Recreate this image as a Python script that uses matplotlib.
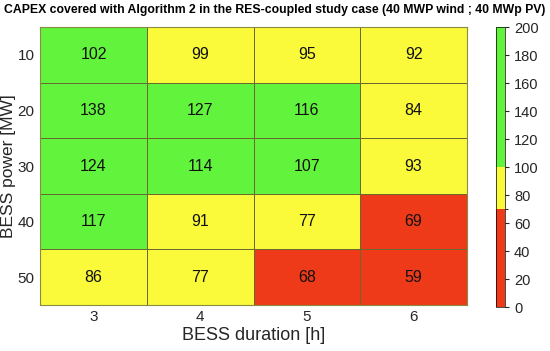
import matplotlib.pyplot as plt
import numpy as np
from matplotlib.colors import ListedColormap, BoundaryNorm

plt.rcParams['font.family'] = ['Liberation Sans', 'DejaVu Sans']

durations = [3, 4, 5, 6]
powers = [10, 20, 30, 40, 50]
capex = np.array([
    [102, 99, 95, 92],
    [138, 127, 116, 84],
    [124, 114, 107, 93],
    [117, 91, 77, 69],
    [86, 77, 68, 59],
])

cmap = ListedColormap(['#ee3a18', '#fafa3a', '#62f43c'])
norm = BoundaryNorm([0, 70, 100, 200], cmap.N)

fig = plt.figure(figsize=(5.5, 3.51), dpi=100)
ax = fig.add_axes([0.073, 0.131, 0.776, 0.792])
cax = fig.add_axes([0.902, 0.125, 0.016, 0.798])

x_edges = np.arange(len(durations) + 1) - 0.5
y_edges = np.arange(len(powers) + 1) - 0.5
mesh = ax.pcolormesh(x_edges, y_edges, capex, cmap=cmap, norm=norm,
                     edgecolor='#6a6a30', linewidth=0.5)
ax.set_xlim(-0.5, len(durations) - 0.5)
ax.set_ylim(len(powers) - 0.5, -0.5)

for i in range(len(powers)):
    for j in range(len(durations)):
        ax.text(j, i, str(capex[i, j]), ha='center', va='center', fontsize=11.5, color='#111111')

ax.set_xticks(range(len(durations)))
ax.set_xticklabels([str(d) for d in durations])
ax.set_yticks(range(len(powers)))
ax.set_yticklabels([str(p) for p in powers])
ax.tick_params(length=0, labelsize=11, colors='#262626')
ax.tick_params(axis='y', pad=4)
for s in ax.spines.values():
    s.set_color('#8a8a40')
    s.set_linewidth(0.8)

ax.set_xlabel('BESS duration [h]', fontsize=13, color='#262626', labelpad=2)
ax.set_ylabel('BESS power [MW]', fontsize=12.5, color='#262626', labelpad=1)
fig.suptitle('CAPEX covered with Algorithm 2 in the RES-coupled study case (40 MWP wind ; 40 MWp PV)',
             fontsize=8.8, fontweight='bold', y=0.99, x=0.5)

cb = fig.colorbar(mesh, cax=cax, ticks=np.arange(0, 201, 20), spacing='proportional')
cb.ax.set_ylim(0, 200)
cb.ax.tick_params(labelsize=10.5, colors='#262626', length=3)
cb.outline.set_linewidth(0.5)

fig.savefig('out.png', dpi=100)
